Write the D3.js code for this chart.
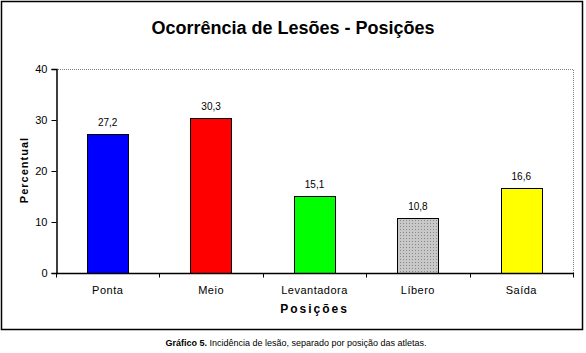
<!DOCTYPE html>
<html>
<head>
<meta charset="utf-8">
<script src="https://cdn.jsdelivr.net/npm/d3@7"></script>
<style>
  body { margin: 0; background: #fff; }
  text { font-family: Arial, "Liberation Sans", sans-serif; }
</style>
</head>
<body>
<div id="chart"></div>
<script>
// data
var categories = ["Ponta", "Meio", "Levantadora", "Líbero", "Saída"];
var values = [27.2, 30.3, 15.1, 10.8, 16.6];
var labels = ["27,2", "30,3", "15,1", "10,8", "16,6"];
var yTicks = [0, 10, 20, 30, 40];
var barColors = ["#0000ff", "#ff0000", "#00ff00", "url(#dots)", "#ffff00"];

var width = 586, height = 353;
var plotLeft = 56, plotRight = 573, plotTop = 69, plotBottom = 273;

var svg = d3.select("#chart").append("svg")
    .attr("width", width)
    .attr("height", height);

// dotted grey fill for the Libero bar
var pat = svg.append("defs").append("pattern")
    .attr("id", "dots")
    .attr("width", 3).attr("height", 3)
    .attr("patternUnits", "userSpaceOnUse");
pat.append("rect").attr("width", 3).attr("height", 3).attr("fill", "#c8c8c8");
pat.append("rect").attr("x", 1).attr("y", 1).attr("width", 1).attr("height", 1).attr("fill", "#8a8a8a");

// outer frame
svg.append("rect")
    .attr("x", 1.5).attr("y", 1.5)
    .attr("width", 581).attr("height", 328)
    .attr("fill", "none").attr("stroke", "#000").attr("stroke-width", 1.5);

// title
svg.append("text")
    .attr("x", 293).attr("y", 34)
    .attr("text-anchor", "middle")
    .attr("font-size", "18px").attr("font-weight", "bold")
    .text("Ocorrência de Lesões - Posições");

var x = d3.scaleBand().domain(categories).range([plotLeft, plotRight]).paddingInner(0.6).paddingOuter(0.3);
var y = d3.scaleLinear().domain([0, 40]).range([plotBottom, plotTop]);

// dotted top and right border of the plot area
svg.append("path")
    .attr("d", "M" + plotLeft + "," + (plotTop + 0.5) + "H" + (plotRight + 0.5) + "V" + plotBottom)
    .attr("fill", "none").attr("stroke", "#808080").attr("stroke-dasharray", "1,1");

// bars
svg.selectAll(".bar")
    .data(values)
  .enter().append("rect")
    .attr("class", "bar")
    .attr("x", function(d, i) { return Math.round(x(categories[i])) + 0.5; })
    .attr("y", function(d) { return Math.round(y(d)) + 0.5; })
    .attr("width", Math.round(x.bandwidth()))
    .attr("height", function(d) { return plotBottom - Math.round(y(d)); })
    .attr("fill", function(d, i) { return barColors[i]; })
    .attr("stroke", "#000").attr("stroke-width", 1);

// value labels
svg.selectAll(".val")
    .data(values)
  .enter().append("text")
    .attr("class", "val")
    .attr("x", function(d, i) { return x(categories[i]) + x.bandwidth() / 2; })
    .attr("y", function(d) { return y(d) - 8; })
    .attr("text-anchor", "middle")
    .attr("font-size", "10px")
    .text(function(d, i) { return labels[i]; });

// y axis
var yAxis = svg.append("g")
    .attr("transform", "translate(" + (plotLeft + 0.5) + ",0)")
    .call(d3.axisLeft(y).tickValues(yTicks).tickSize(5).tickPadding(4));
yAxis.select(".domain").attr("stroke", "#000").attr("stroke-width", 1.5);
yAxis.selectAll("text").attr("font-size", "11px").attr("font-family", "Arial, 'Liberation Sans', sans-serif");

// x axis: ticks sit between the categories
var xAxis = svg.append("g").attr("transform", "translate(0," + (plotBottom + 0.5) + ")");
xAxis.append("line")
    .attr("x1", plotLeft).attr("x2", plotRight + 1)
    .attr("stroke", "#000").attr("stroke-width", 1.5);
var step = (plotRight - plotLeft) / categories.length;
xAxis.selectAll(".tk")
    .data(d3.range(categories.length + 1))
  .enter().append("line")
    .attr("class", "tk")
    .attr("x1", function(i) { return Math.round(plotLeft + i * step) + 0.5; })
    .attr("x2", function(i) { return Math.round(plotLeft + i * step) + 0.5; })
    .attr("y1", 0).attr("y2", 4)
    .attr("stroke", "#000");
xAxis.selectAll(".cat")
    .data(categories)
  .enter().append("text")
    .attr("class", "cat")
    .attr("x", function(d) { return x(d) + x.bandwidth() / 2; })
    .attr("y", 20)
    .attr("text-anchor", "middle")
    .attr("font-size", "11px")
    .attr("letter-spacing", "0.5px")
    .text(function(d) { return d; });

// axis titles
svg.append("text")
    .attr("x", (plotLeft + plotRight) / 2).attr("y", 313)
    .attr("text-anchor", "middle")
    .attr("font-size", "12px").attr("font-weight", "bold")
    .attr("letter-spacing", "2px")
    .text("Posições");

svg.append("text")
    .attr("transform", "translate(28,170) rotate(-90)")
    .attr("text-anchor", "middle")
    .attr("font-size", "11px").attr("font-weight", "bold")
    .attr("letter-spacing", "1px")
    .text("Percentual");

// caption under the frame
var cap = svg.append("text")
    .attr("x", 296).attr("y", 346)
    .attr("text-anchor", "middle")
    .attr("font-size", "9px")
    .attr("font-family", "'DejaVu Sans Condensed', 'DejaVu Sans', sans-serif");
cap.append("tspan").attr("font-weight", "bold").text("Gráfico 5. ");
cap.append("tspan").text("Incidência de lesão, separado por posição das atletas.");
</script>
</body>
</html>
